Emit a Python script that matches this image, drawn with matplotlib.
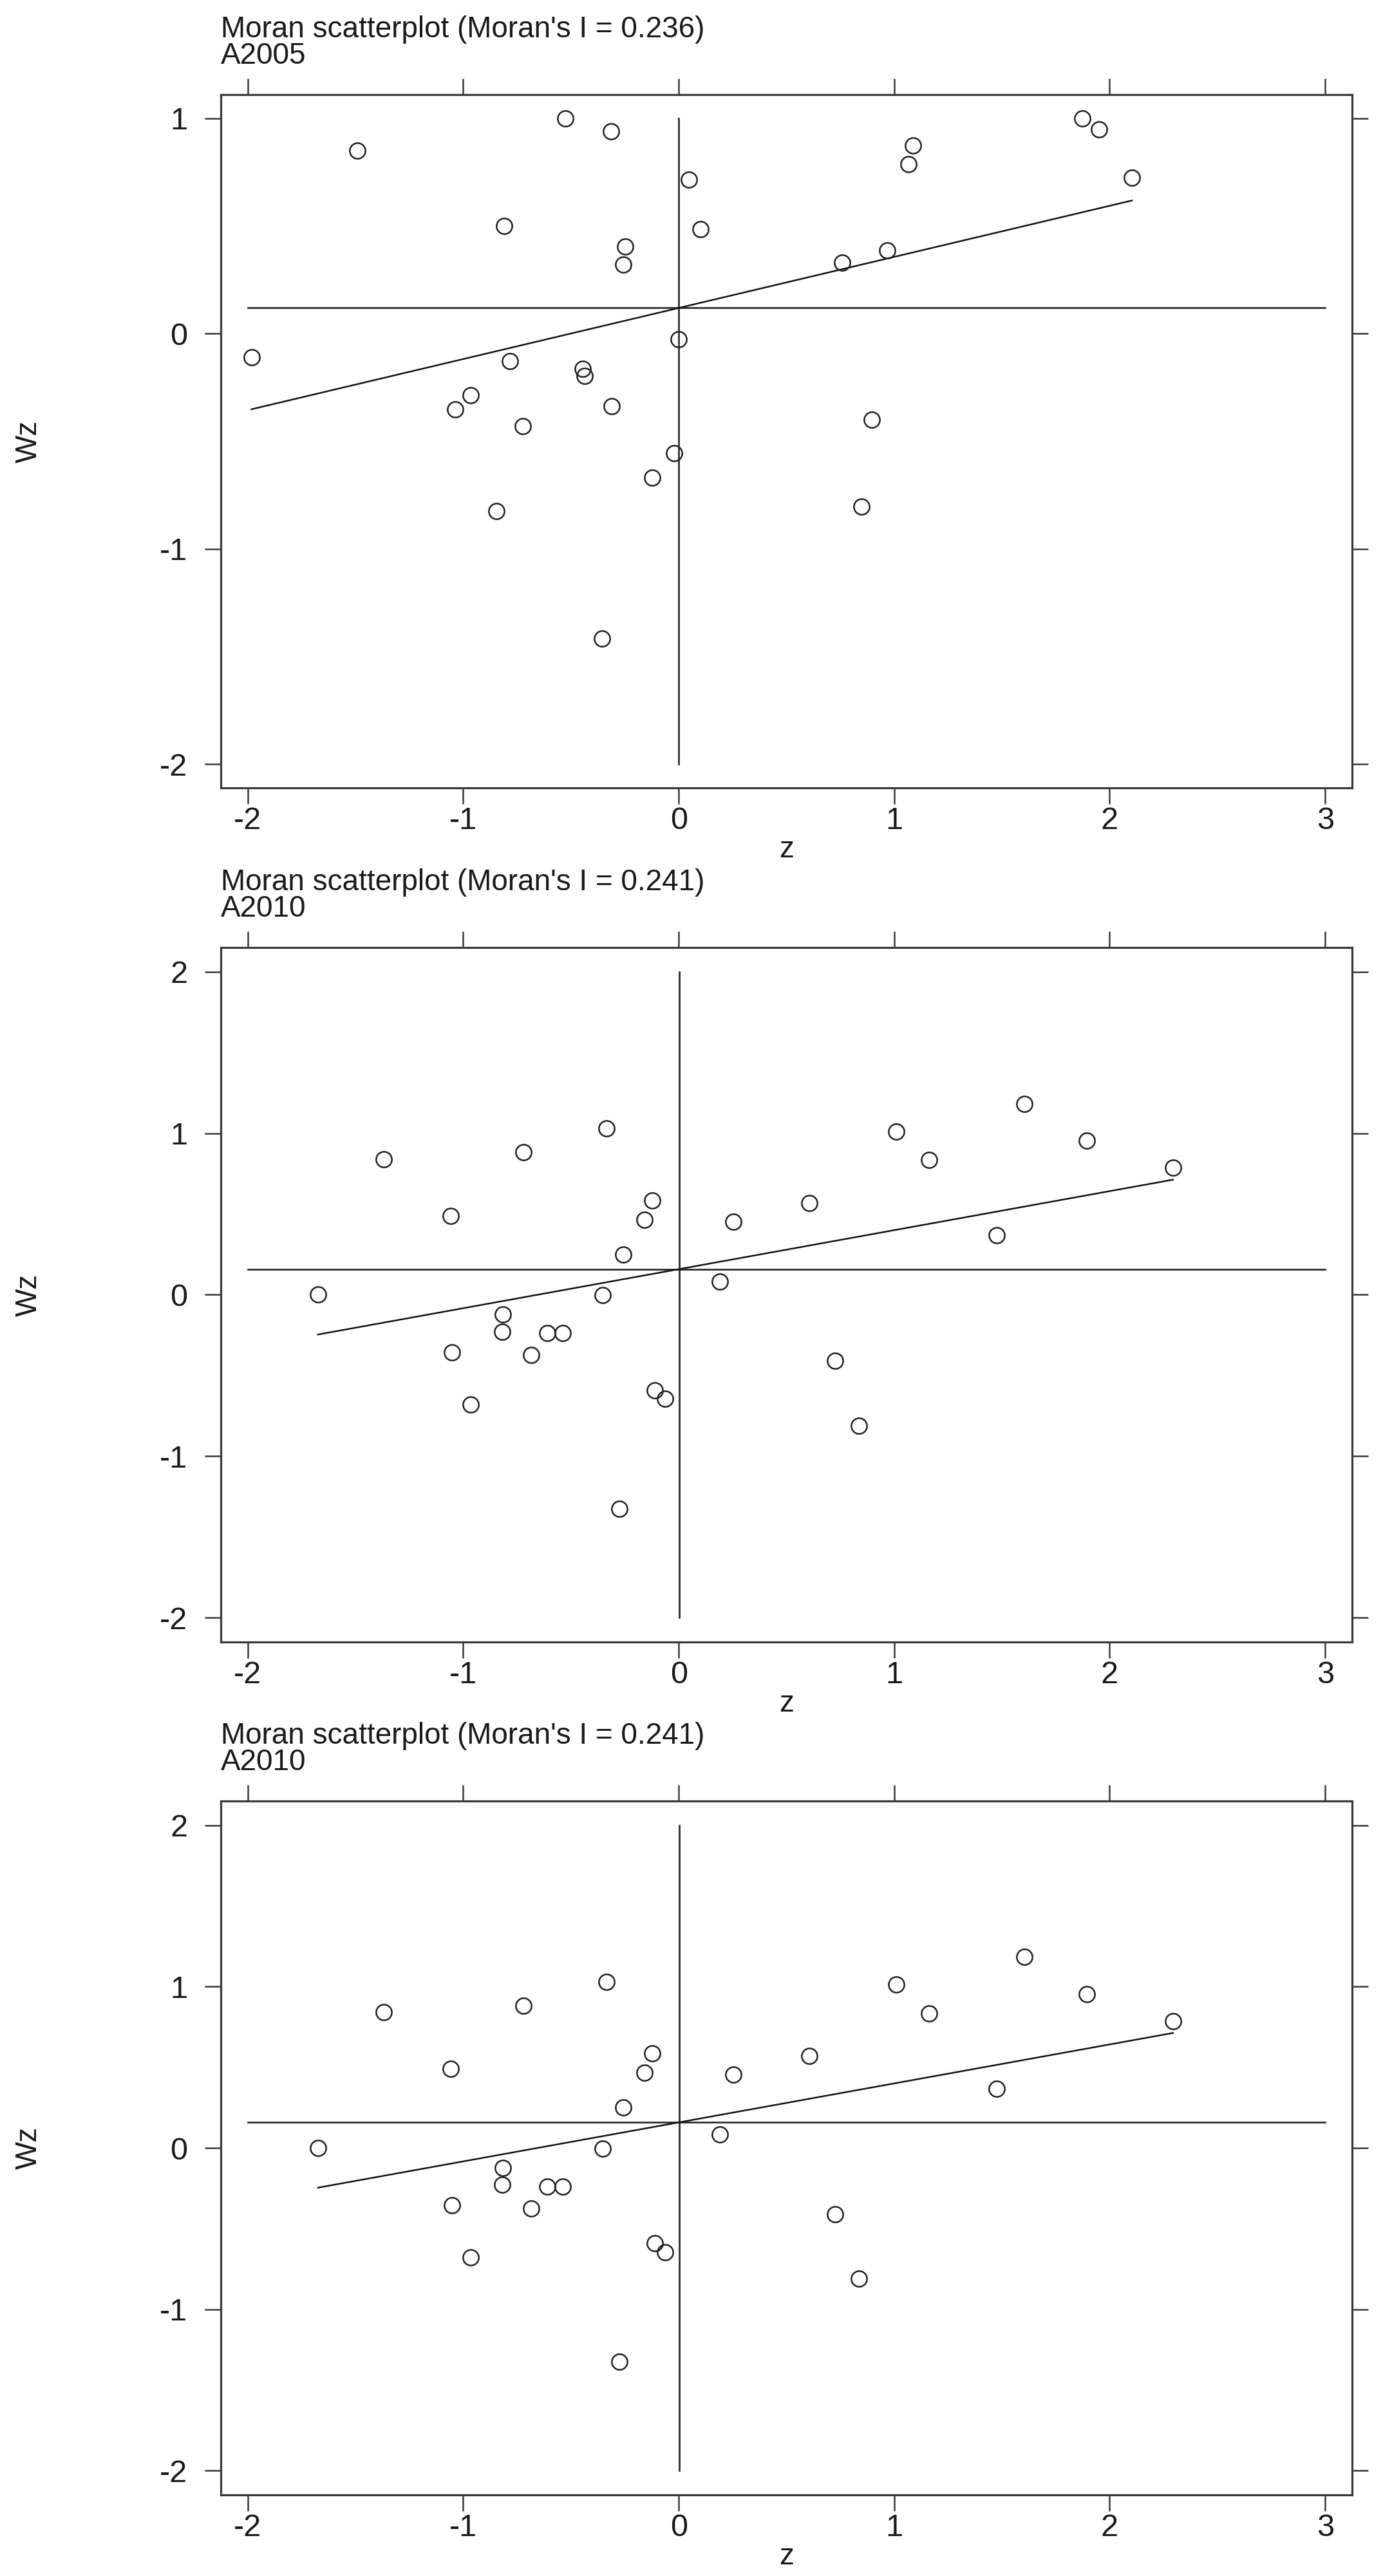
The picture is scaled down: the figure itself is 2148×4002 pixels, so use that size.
import numpy as np
import matplotlib
matplotlib.use("Agg")
import matplotlib.pyplot as plt

plt.rcParams["font.family"] = "Liberation Sans"

# data (z, Wz)
z_2005 = [-1.492, -0.525, -0.315, 0.046, -0.809, 0.100, -0.248, -0.256, -1.983, -0.784,
          0.000, -0.445, -0.437, -0.966, -1.038, -0.311, -0.723, -0.021, -0.122, -0.845,
          -0.357, 1.872, 1.952, 1.088, 1.067, 2.103, 0.969, 0.757, 0.895, 0.847]
wz_2005 = [0.850, 1.000, 0.939, 0.716, 0.500, 0.486, 0.404, 0.322, -0.109, -0.129,
           -0.025, -0.164, -0.198, -0.287, -0.352, -0.337, -0.429, -0.555, -0.669, -0.823,
           -1.415, 1.000, 0.949, 0.875, 0.788, 0.724, 0.387, 0.330, -0.399, -0.802]

z_2010 = [-1.674, -1.370, -1.057, -1.053, -0.966, -0.721, -0.815, -0.819, -0.609, -0.538,
          -0.685, -0.336, -0.353, -0.258, -0.158, -0.124, -0.111, -0.063, -0.275, 0.253,
          0.190, 0.605, 0.726, 0.837, 1.009, 1.162, 1.476, 1.604, 1.895, 2.294]
wz_2010 = [0.000, 0.840, 0.489, -0.357, -0.678, 0.883, -0.122, -0.228, -0.238, -0.238,
           -0.374, 1.031, -0.003, 0.251, 0.466, 0.585, -0.592, -0.645, -1.326, 0.453,
           0.083, 0.569, -0.410, -0.810, 1.012, 0.833, 0.367, 1.183, 0.955, 0.787]

titles = ["A2005", "A2010", "A2010"]
moran_i = ["0.236", "0.241", "0.241"]
xs = [z_2005, z_2010, z_2010]
ys = [wz_2005, wz_2010, wz_2010]
x_ticks = [-2, -1, 0, 1, 2, 3]
y_ticks = [[-2, -1, 0, 1], [-2, -1, 0, 1, 2], [-2, -1, 0, 1, 2]]
y_lims = [(-2.11, 1.11), (-2.15, 2.15), (-2.15, 2.15)]

W, H = 2148, 4002
fig = plt.figure(figsize=(W / 100, H / 100), dpi=100)

# box positions in pixels (left, top, right, bottom)
left, right = 343, 2100
tops = [147, 1472, 2798]
bottoms = [1224, 2551, 3876]

ink = "#1a1a1a"
box = "#3a3a3a"
fs = 33

for i in range(3):
    ax = fig.add_axes([left / W, 1 - bottoms[i] / H, (right - left) / W, (bottoms[i] - tops[i]) / H])
    x = np.array(xs[i])
    y = np.array(ys[i])

    ax.set_xlim(-2.125, 3.125)
    ax.set_ylim(*y_lims[i])

    # mean lines spanning the tick range
    ax.plot([min(x_ticks), max(x_ticks)], [y.mean(), y.mean()], color="#2e2e2e", lw=2.0, zorder=1)
    ax.plot([x.mean(), x.mean()], [min(y_ticks[i]), max(y_ticks[i])], color="#2e2e2e", lw=2.0, zorder=1)

    # regression line
    b, a = np.polyfit(x, y, 1)
    xx = np.array([x.min(), x.max()])
    ax.plot(xx, a + b * xx, color="#111111", lw=1.8, zorder=2)

    ax.plot(x, y, "o", ms=17.5, mfc="none", mec="#222222", mew=1.8, zorder=3)

    ax.set_xticks(x_ticks)
    ax.set_yticks(y_ticks[i])
    ax.set_xticklabels([str(t) for t in x_ticks])
    ax.set_yticklabels([str(t) for t in y_ticks[i]])
    ax.tick_params(direction="out", length=18, width=1.8, color=box, labelcolor=ink,
                   labelsize=35, top=True, right=True)
    ax.tick_params(axis="x", pad=3)
    ax.tick_params(axis="y", pad=19)
    for s in ax.spines.values():
        s.set_linewidth(2.3)
        s.set_color(box)

    ax.annotate("Moran scatterplot (Moran's I = " + moran_i[i] + ")", xy=(0, 1), xycoords="axes fraction",
                xytext=(0, 72.7), textcoords="offset points", ha="left", va="center",
                fontsize=fs, color=ink)
    ax.annotate(titles[i], xy=(0, 1), xycoords="axes fraction",
                xytext=(0, 43.2), textcoords="offset points", ha="left", va="center",
                fontsize=fs, color=ink)
    ax.annotate("z", xy=(0.5, 0), xycoords="axes fraction",
                xytext=(0, -69), textcoords="offset points", ha="center", va="center",
                fontsize=fs, color=ink)
    ax.annotate("Wz", xy=(0, 0.5), xycoords="axes fraction",
                xytext=(-214.5, 0), textcoords="offset points", ha="center", va="center",
                rotation=90, fontsize=fs, color=ink)

fig.savefig("out.png", dpi=100, facecolor="white")
